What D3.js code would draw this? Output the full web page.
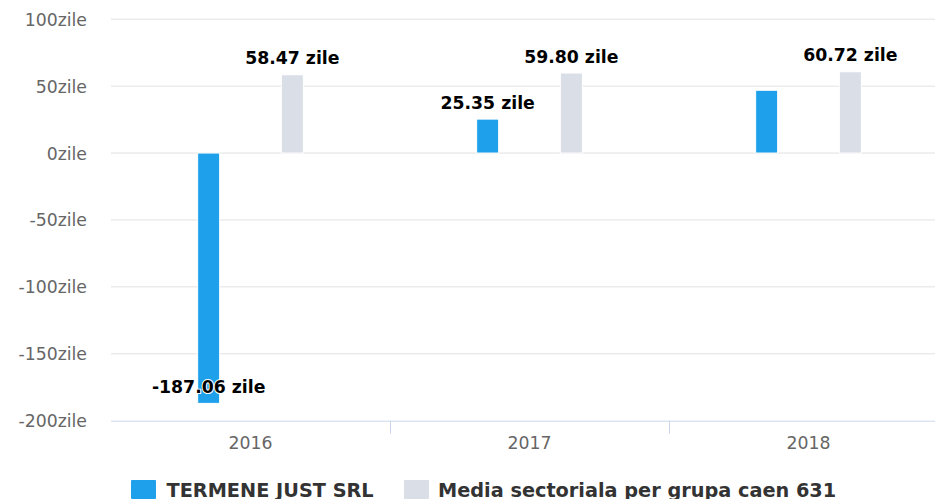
<!DOCTYPE html>
<html>
<head>
<meta charset="utf-8">
<script src="https://cdn.jsdelivr.net/npm/d3@7"></script>
<style>
  html, body { margin: 0; padding: 0; background: #fff; overflow: hidden; }
  svg { display: block; font-family: "DejaVu Sans", Verdana, sans-serif; }
</style>
</head>
<body>
<svg id="chart" width="935" height="499"></svg>
<script>
// ---- data ----
const categories = ["2016", "2017", "2018"];
const seriesNames = ["TERMENE JUST SRL", "Media sectoriala per grupa caen 631"];
const seriesColors = ["#1ea1ea", "#d9dee7"];
const companyValues = [-187.06, 25.35, 46.9];
const sectorValues = [58.47, 59.80, 60.72];
const companyLabels = ["-187.06 zile", "25.35 zile", null];
const sectorLabels = ["58.47 zile", "59.80 zile", "60.72 zile"];
const yTicks = [-200, -150, -100, -50, 0, 50, 100];
const yUnit = "zile";

const series = [
  { name: seriesNames[0], color: seriesColors[0], values: companyValues, labels: companyLabels },
  { name: seriesNames[1], color: seriesColors[1], values: sectorValues, labels: sectorLabels }
];

// ---- layout ----
const svg = d3.select("#chart");
const plotLeft = 111, plotRight = 948, plotTop = 19.2, plotBottom = 420.7;

const x = d3.scaleBand().domain(categories).range([plotLeft, plotRight]).padding(0);
const xInner = d3.scaleBand().domain(d3.range(series.length))
  .range([x.bandwidth() * 0.2, x.bandwidth() * 0.8]).padding(0);
const barW = 22;
const y = d3.scaleLinear().domain([-200, 100]).range([plotBottom, plotTop]);

// gridlines
svg.append("g").selectAll("line").data(yTicks.filter(t => t !== -200)).join("line")
  .attr("x1", plotLeft).attr("x2", plotRight)
  .attr("y1", d => y(d)).attr("y2", d => y(d))
  .attr("stroke", "#e2e2e2").attr("stroke-width", 1);

// y axis labels
const yAxis = d3.axisLeft(y).tickValues(yTicks).tickSize(0).tickPadding(0)
  .tickFormat(d => d + yUnit);
const gy = svg.append("g").attr("transform", `translate(87,0)`).call(yAxis);
gy.select(".domain").remove();
gy.selectAll("text")
  .attr("font-size", "17.3px").attr("fill", "#666")
  .attr("font-family", "DejaVu Sans")
  .attr("dy", null).attr("y", 6).attr("x", 0).attr("text-anchor", "end");

// x axis
const gx = svg.append("g").attr("transform", `translate(0,${plotBottom})`)
  .call(d3.axisBottom(x).tickSize(0).tickPadding(0));
gx.select(".domain").attr("stroke", "#ccd6eb").attr("d", `M${plotLeft},0.5H${plotRight}`);
gx.selectAll("text")
  .attr("font-size", "17.3px").attr("fill", "#666")
  .attr("font-family", "DejaVu Sans")
  .attr("dy", null).attr("y", 28.6);
// category boundary ticks
gx.append("g").selectAll("line").data(categories.slice(1)).join("line")
  .attr("x1", d => Math.round(x(d)) + 0.5).attr("x2", d => Math.round(x(d)) + 0.5)
  .attr("y1", 0).attr("y2", 13)
  .attr("stroke", "#ccd6eb").attr("stroke-width", 1);

// bars
series.forEach((s, si) => {
  const g = svg.append("g");
  g.selectAll("rect").data(s.values).join("rect")
    .attr("x", (d, i) => x(categories[i]) + xInner(si) + xInner.bandwidth() / 2 - barW / 2)
    .attr("width", barW)
    .attr("y", d => Math.min(y(d), y(0)))
    .attr("height", d => Math.abs(y(d) - y(0)))
    .attr("fill", s.color)
    .attr("stroke", "#fff").attr("stroke-width", 1);
});

// data labels
series.forEach((s, si) => {
  const g = svg.append("g");
  s.values.forEach((v, i) => {
    if (!s.labels[i]) return;
    const cx = x(categories[i]) + xInner(si) + xInner.bandwidth() / 2;
    let by;
    if (v >= 0) by = y(v) - 10.5;
    else by = Math.min(y(v) + 23, plotBottom - 27.4);
    g.append("text")
      .attr("x", cx).attr("y", by)
      .attr("text-anchor", "middle")
      .attr("font-size", "17.3px").attr("font-weight", "bold")
      .attr("fill", "#000")
      .attr("stroke", "#fff").attr("stroke-width", 2)
      .attr("stroke-linejoin", "round").attr("paint-order", "stroke")
      .text(s.labels[i]);
  });
});

// legend
const legendItems = [
  { sx: 131, tx: 166.5 },
  { sx: 404, tx: 438 }
];
const lg = svg.append("g");
series.forEach((s, si) => {
  lg.append("rect")
    .attr("x", legendItems[si].sx).attr("y", 480)
    .attr("width", 25).attr("height", 19)
    .attr("rx", 1)
    .attr("fill", s.color);
  lg.append("text")
    .attr("x", legendItems[si].tx).attr("y", 496.7)
    .attr("font-size", "19.3px").attr("font-weight", "bold")
    .attr("fill", "#333")
    .text(s.name);
});
</script>
</body>
</html>
